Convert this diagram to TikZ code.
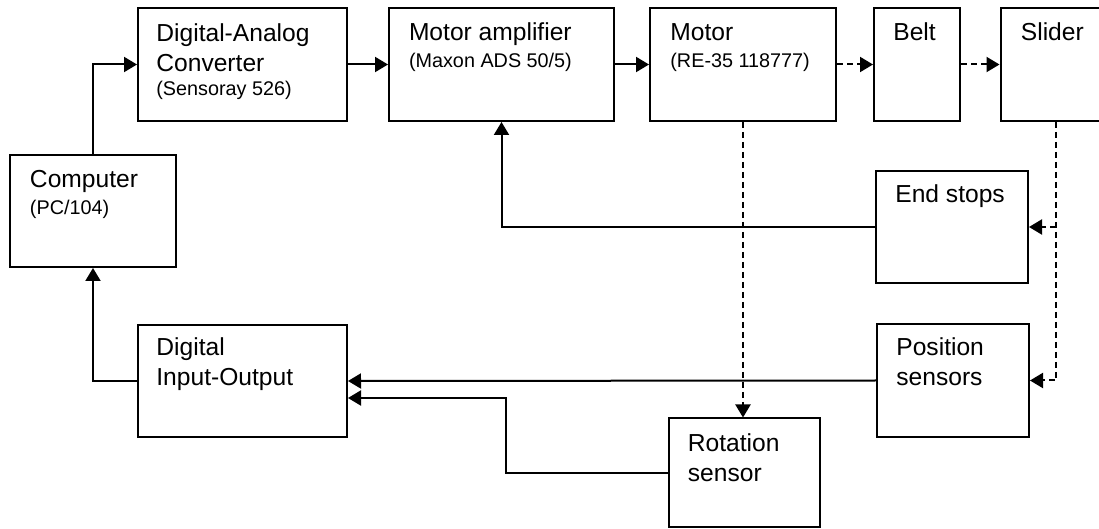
\documentclass[tikz,border=0pt]{standalone}
\usepackage{fontspec}
\setmainfont{Liberation Sans}
\usetikzlibrary{arrows.meta}

\newcommand{\smalltxt}[1]{{\fontsize{9.9}{11.5}\selectfont #1}}

\begin{document}
\begin{tikzpicture}[x=0.5pt, y=-0.5pt,
    block/.style={draw, line width=1pt, inner sep=0pt},
    txt/.style={anchor=base west, align=left, inner sep=0pt, font=\fontsize{12.3}{15}\selectfont},
    arr/.style={line width=1pt, -{Triangle[length=6.5pt,width=7.5pt]}},
    darr/.style={arr, dash pattern=on 3pt off 2pt}]
    \useasboundingbox (0,0) rectangle (1099,529);

    % Nodes
    \node[block, minimum width=83pt, minimum height=56pt] (comp) at (93,211) {};
    \node[block, minimum width=104.5pt, minimum height=56.5pt] (dac) at (242.5,64.5) {};
    \node[block, minimum width=112.5pt, minimum height=56.5pt] (amp) at (501.5,64.5) {};
    \node[block, minimum width=93pt, minimum height=56.5pt] (motor) at (743,64.5) {};
    \node[block, minimum width=43pt, minimum height=56.5pt] (belt) at (917,64.5) {};
    \node[block, minimum width=55.5pt, minimum height=56.5pt] (slider) at (1056,64.5) {};
    \node[block, minimum width=76pt, minimum height=56pt] (ends) at (952,227) {};
    \node[block, minimum width=76pt, minimum height=56.5pt] (pos) at (953,380.5) {};
    \node[block, minimum width=104.5pt, minimum height=56pt] (dio) at (242.5,381) {};
    \node[block, minimum width=75.5pt, minimum height=54.5pt] (rot) at (744,473) {};

    % Text in the boxes (anchored at the baseline of the last line)
    \node[txt] at ([xshift=10.3pt,yshift=-30.5pt]comp.north west) {Computer\\[-1.5pt]\smalltxt{(PC/104)}};
    \node[txt] at ([xshift=9.5pt,yshift=-44.5pt]dac.north west) {Digital-Analog\\Converter\\[-3pt]\smalltxt{(Sensoray 526)}};
    \node[txt] at ([xshift=10.3pt,yshift=-30.5pt]amp.north west) {Motor amplifier\\[-1.5pt]\smalltxt{(Maxon ADS 50/5)}};
    \node[txt] at ([xshift=10.5pt,yshift=-30.5pt]motor.north west) {Motor\\[-1.5pt]\smalltxt{(RE-35 118777)}};
    \node[txt] at ([xshift=10pt,yshift=-17pt]belt.north west) {Belt};
    \node[txt] at ([xshift=10.5pt,yshift=-17pt]slider.north west) {Slider};
    \node[txt] at ([xshift=10pt,yshift=-16.3pt]ends.north west) {End stops};
    \node[txt] at ([xshift=10pt,yshift=-31.5pt]pos.north west) {Position\\sensors};
    \node[txt] at ([xshift=9.5pt,yshift=-31pt]dio.north west) {Digital\\Input-Output};
    \node[txt] at ([xshift=10pt,yshift=-32pt]rot.north west) {Rotation\\sensor};

    % Connection
    \draw[arr] (comp.north) |- (dac.west);
    \draw[arr] (dac) -- (amp);
    \draw[arr] (amp) -- (motor);
    \draw[darr] (motor) -- (belt);
    \draw[darr] (belt) -- (slider);
    \draw[darr] (motor.south) -- (motor.south |- rot.north);
    \draw[darr] (slider.south) |- (pos.east);
    \draw[darr] (slider.south |- ends.east) -- (ends.east);
    \draw[arr] (ends.west) -| (amp.south);
    \draw[arr] (pos.west) -- (dio.east);
    \draw[arr] (rot.west) -- ++(-162,0) |- ([yshift=-8.5pt]dio.east);
    \draw[arr] (dio.west) -| (comp.south);
\end{tikzpicture}
\end{document}
